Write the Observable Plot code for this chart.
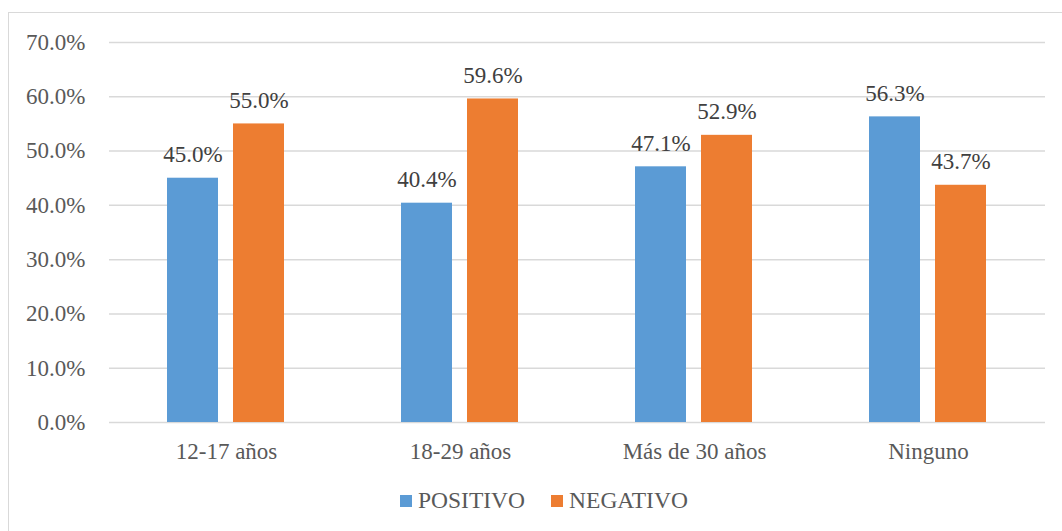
<!DOCTYPE html>
<html>
<head>
<meta charset="utf-8">
<script src="https://cdn.jsdelivr.net/npm/d3@7"></script>
<script src="https://cdn.jsdelivr.net/npm/@observablehq/plot@0.6"></script>
<style>
  html, body { margin: 0; padding: 0; background: #fff; overflow: hidden; width: 1062px; height: 531px; }
  #frame { position: absolute; left: 8px; top: 12px; width: 1200px; height: 700px; border: 1.5px solid #d9d9d9; box-sizing: border-box; }
  #chart { position: absolute; left: 0; top: 0; }
  #chart svg, #chart svg g, #chart svg text { font-family: "Liberation Serif", "Times New Roman", serif !important; font-variant: normal !important; font-variant-numeric: normal !important; }
  #legend { position: absolute; left: 400px; top: 487px; display: flex; align-items: center;
    font-family: "Liberation Serif", "Times New Roman", serif; font-size: 23.5px; color: #595959; }
  .item { display: flex; align-items: center; margin-right: 26px; }
  .sw { width: 12px; height: 12px; margin-right: 6px; }
</style>
</head>
<body>
<div id="frame"></div>
<div id="chart"></div>
<div id="legend"></div>
<script>
const categories = ["12-17 años", "18-29 años", "Más de 30 años", "Ninguno"];
const seriesNames = ["POSITIVO", "NEGATIVO"];
const positivo = [45.0, 40.4, 47.1, 56.3];
const negativo = [55.0, 59.6, 52.9, 43.7];
const yTicks = [0, 10, 20, 30, 40, 50, 60, 70];
const colors = ["#5B9BD5", "#ED7D31"];

const data = [];
categories.forEach((c, i) => {
  data.push({cat: c, series: seriesNames[0], value: positivo[i]});
  data.push({cat: c, series: seriesNames[1], value: negativo[i]});
});

const fmt = d => d.toFixed(1) + "%";
const font = "'Liberation Serif', 'Times New Roman', serif";

const chart = Plot.plot({
  width: 1062,
  height: 470,
  marginLeft: 108,
  marginRight: 16,
  marginTop: 42,
  marginBottom: 48,
  style: `font-family: ${font}; font-size: 23px; color: #595959; background: transparent;`,
  fx: {domain: categories, padding: 0, label: null},
  x: {domain: seriesNames, paddingInner: 0.22, paddingOuter: 0.86, axis: null},
  y: {domain: [0, 70], label: null},
  color: {domain: seriesNames, range: colors},
  marks: [
    Plot.ruleY(yTicks, {stroke: "#d9d9d9", strokeWidth: 1.5}),
    Plot.barY(data, {fx: "cat", x: "series", y: "value", fill: "series"}),
    Plot.text(data, {fx: "cat", x: "series", y: "value", text: d => fmt(d.value),
      lineAnchor: "bottom", dy: -16, fill: "#404040", fontSize: 23, fontFamily: font, fontVariant: "normal"}),
    Plot.axisY(yTicks, {tickSize: 0, tickPadding: 24, tickFormat: fmt, label: null, fill: "#595959", fontSize: 23, fontFamily: font, fontVariant: "normal"}),
    Plot.axisFx({anchor: "bottom", tickSize: 0, tickPadding: 20, label: null, fill: "#595959", fontSize: 23, fontFamily: font})
  ]
});
document.getElementById("chart").appendChild(chart);

const legend = document.getElementById("legend");
seriesNames.forEach((s, i) => {
  const item = document.createElement("div");
  item.className = "item";
  const sw = document.createElement("div");
  sw.className = "sw";
  sw.style.background = colors[i];
  const t = document.createElement("span");
  t.textContent = s;
  item.appendChild(sw);
  item.appendChild(t);
  legend.appendChild(item);
});
</script>
</body>
</html>
